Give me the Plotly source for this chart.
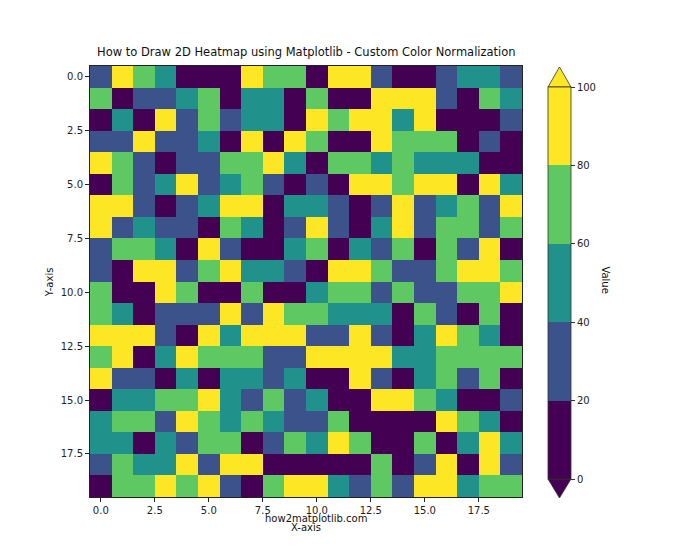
import plotly.graph_objects as go

# colour bin of each cell (0: 0-20, 1: 20-40, 2: 40-60, 3: 60-80, 4: 80-100)
bins = [
    [1, 4, 3, 2, 0, 0, 0, 4, 3, 3, 0, 4, 4, 1, 0, 0, 1, 2, 2, 1],
    [3, 0, 1, 1, 2, 3, 0, 2, 2, 0, 3, 0, 0, 4, 4, 4, 1, 0, 3, 2],
    [0, 2, 0, 4, 1, 3, 1, 2, 2, 0, 4, 3, 4, 4, 2, 4, 0, 0, 0, 1],
    [1, 1, 4, 1, 1, 2, 0, 4, 0, 4, 3, 0, 0, 4, 3, 3, 3, 0, 1, 0],
    [4, 3, 1, 0, 1, 1, 3, 3, 4, 2, 0, 3, 3, 2, 3, 2, 2, 2, 0, 0],
    [0, 3, 1, 2, 4, 1, 2, 3, 1, 0, 1, 0, 4, 4, 3, 4, 4, 0, 4, 2],
    [4, 4, 1, 0, 1, 2, 4, 4, 0, 2, 2, 1, 0, 1, 4, 1, 2, 3, 1, 4],
    [4, 1, 2, 1, 1, 0, 3, 2, 0, 1, 4, 1, 0, 2, 4, 1, 3, 3, 1, 3],
    [1, 3, 3, 2, 0, 4, 1, 0, 0, 2, 3, 0, 2, 1, 3, 0, 3, 1, 4, 0],
    [1, 0, 4, 4, 1, 3, 4, 2, 2, 1, 0, 4, 4, 3, 1, 1, 3, 4, 4, 3],
    [3, 0, 0, 4, 3, 0, 0, 3, 0, 0, 2, 3, 3, 1, 3, 1, 1, 3, 3, 4],
    [3, 2, 0, 1, 1, 1, 4, 1, 4, 3, 3, 2, 2, 2, 0, 3, 1, 0, 3, 0],
    [4, 4, 4, 1, 0, 4, 2, 4, 4, 4, 1, 1, 4, 1, 0, 2, 4, 3, 2, 0],
    [3, 4, 0, 2, 4, 3, 3, 3, 1, 1, 4, 4, 4, 4, 2, 2, 3, 3, 3, 3],
    [4, 1, 1, 0, 2, 0, 2, 2, 1, 2, 0, 0, 4, 1, 0, 2, 3, 1, 3, 0],
    [0, 2, 2, 3, 3, 4, 2, 1, 3, 1, 2, 0, 0, 4, 4, 3, 2, 0, 0, 1],
    [2, 3, 3, 1, 4, 3, 2, 3, 2, 1, 1, 3, 0, 0, 0, 0, 4, 3, 2, 0],
    [2, 2, 0, 2, 1, 3, 3, 0, 1, 3, 2, 4, 3, 0, 0, 3, 0, 2, 4, 2],
    [1, 3, 2, 2, 4, 1, 4, 4, 0, 0, 0, 0, 0, 3, 0, 1, 4, 0, 4, 1],
    [0, 3, 3, 4, 3, 4, 1, 0, 3, 4, 4, 2, 1, 3, 1, 4, 4, 2, 3, 3],
]
bin_values = [10, 30, 50, 70, 90]
boundaries = [0, 20, 40, 60, 80, 100]
tick_vals = [0, 2.5, 5, 7.5, 10, 12.5, 15, 17.5]
tick_text = ["0.0", "2.5", "5.0", "7.5", "10.0", "12.5", "15.0", "17.5"]
band_colors = ["#440154", "#3b528b", "#21918c", "#5ec962", "#fde725"]

z = [[bin_values[b] for b in row] for row in bins]

# stepped colour scale, one flat band per boundary interval
scale = []
for i, c in enumerate(band_colors):
    scale.append([boundaries[i] / 100, c])
    scale.append([boundaries[i + 1] / 100, c])

font = "DejaVu Sans"

fig = go.Figure(go.Heatmap(
    z=z,
    colorscale=scale,
    zmin=0, zmax=100,
    colorbar=dict(
        x=1.06, xanchor="left",
        y=0.4965, yanchor="middle",
        len=392, lenmode="pixels",
        thickness=23, thicknessmode="pixels",
        outlinewidth=0.8, outlinecolor="#333",
        tickvals=boundaries,
        ticks="outside", ticklen=4, tickcolor="#333",
        tickfont=dict(family=font, size=10, color="#222"),
        xpad=0, ypad=0,
    ),
))

# extend triangles of the colour bar
fig.add_shape(type="path", xref="paper", yref="paper",
              path="M 1.0602 0.9513 L 1.1134 0.9513 L 1.0868 0.9977 Z",
              fillcolor=band_colors[-1], line=dict(color="#333", width=0.8))
fig.add_shape(type="path", xref="paper", yref="paper",
              path="M 1.0602 0.0418 L 1.1134 0.0418 L 1.0868 -0.0023 Z",
              fillcolor=band_colors[0], line=dict(color="#333", width=0.8))

axis = dict(
    tickvals=tick_vals, ticktext=tick_text,
    ticks="outside", ticklen=4, tickcolor="#222",
    showline=True, linecolor="#222", linewidth=1, mirror=True,
    showgrid=False, zeroline=False,
    tickfont=dict(family=font, size=10, color="#222"),
)
fig.update_xaxes(range=[-0.5, 19.5], **axis)
fig.update_yaxes(range=[19.5, -0.5], **axis)

fig.update_layout(
    width=700, height=560,
    margin=dict(l=90, r=178, t=66, b=63, autoexpand=False),
    paper_bgcolor="white", plot_bgcolor="white",
    showlegend=False,
    annotations=[
        dict(text="How to Draw 2D Heatmap using Matplotlib - Custom Color Normalization",
             xref="paper", yref="paper", x=0.5, y=1.012, xanchor="center", yanchor="bottom",
             showarrow=False, font=dict(family=font, size=11.5, color="#111")),
        dict(text="X-axis", xref="paper", yref="paper", x=0.5, y=-0.071,
             xanchor="center", yanchor="middle", showarrow=False,
             font=dict(family=font, size=10, color="#111")),
        dict(text="how2matplotlib.com", xref="paper", yref="paper", x=0.523, y=-0.05,
             xanchor="center", yanchor="middle", showarrow=False,
             font=dict(family=font, size=10, color="#111")),
        dict(text="Y-axis", xref="paper", yref="paper", x=-0.093, y=0.498,
             xanchor="center", yanchor="middle", showarrow=False, textangle=-90,
             font=dict(family=font, size=10, color="#111")),
        dict(text="Value", xref="paper", yref="paper", x=1.194, y=0.503,
             xanchor="center", yanchor="middle", showarrow=False, textangle=90,
             font=dict(family=font, size=10, color="#111")),
    ],
)

fig.write_html("out.html", config={"displayModeBar": False},
               post_script="document.body.style.margin='0';")
